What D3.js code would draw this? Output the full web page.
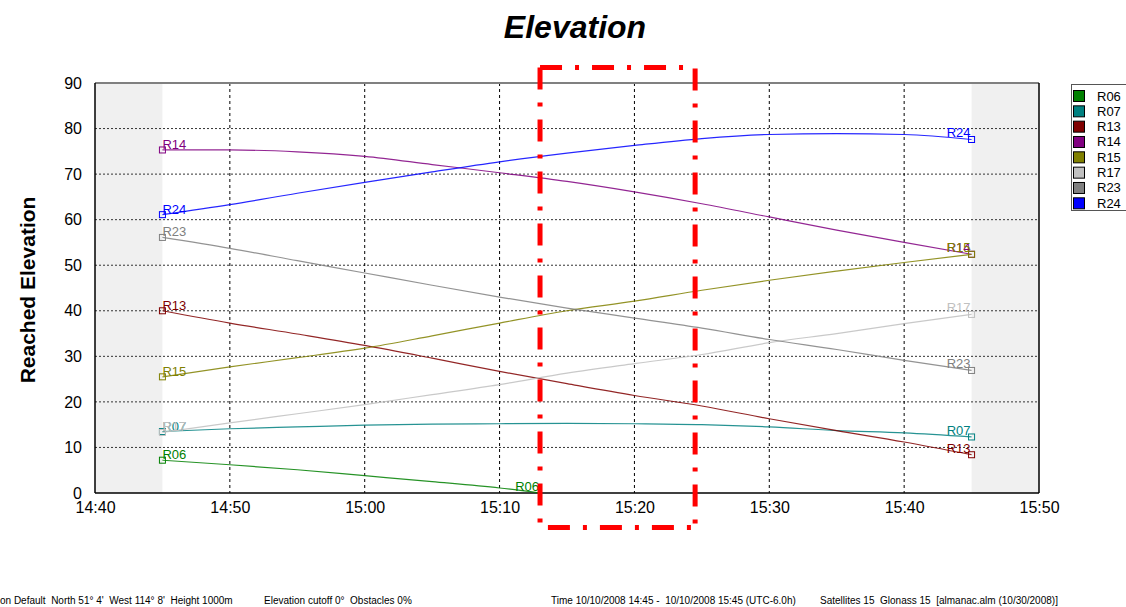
<!DOCTYPE html>
<html lang="en">
<head>
    <meta charset="UTF-8">
    <title>Elevation</title>
    <script src="https://d3js.org/d3.v7.min.js"></script>
    <style>
        body {
            margin: 0;
            padding: 0;
            background: white;
            font-family: Arial, 'Liberation Sans', sans-serif;
        }
    </style>
</head>
<body>
<div id="chart"></div>
<script>
    // data
    var times = ["14:45","14:50","14:55","15:00","15:05","15:10","15:15","15:20","15:25","15:30","15:35","15:40","15:45"];
    var r06Times = ["14:45","14:50","14:55","15:00","15:05","15:10","15:13"];

    var R06 = [7.2, 6.2, 5.1, 3.8, 2.5, 1.1, 0];
    var R07 = [13.5, 14.1, 14.5, 14.9, 15.1, 15.2, 15.3, 15.2, 15.0, 14.5, 13.7, 13.2, 12.3];
    var R13 = [40.0, 37.3, 34.9, 32.4, 29.6, 26.7, 24.0, 21.4, 19.1, 16.3, 13.7, 11.2, 8.4];
    var R14 = [75.3, 75.3, 74.9, 73.9, 72.1, 70.3, 68.4, 66.1, 63.5, 60.6, 57.7, 55.0, 52.4];
    var R15 = [25.5, 27.7, 29.7, 31.8, 34.5, 37.3, 40.0, 42.1, 44.5, 46.7, 48.7, 50.6, 52.4];
    var R17 = [13.3, 15.4, 17.4, 19.4, 21.6, 23.8, 26.3, 28.4, 30.4, 33.0, 35.0, 37.2, 39.2];
    var R23 = [56.1, 53.7, 51.0, 48.3, 45.6, 43.0, 40.6, 38.4, 36.2, 33.7, 31.5, 29.1, 26.9];
    var R24 = [61.1, 63.3, 65.8, 68.2, 70.5, 72.7, 74.6, 76.3, 77.8, 78.7, 78.9, 78.7, 77.6];

    var names = ["R06","R07","R13","R14","R15","R17","R23","R24"];
    var colors = ["#008000","#008080","#800000","#800080","#808000","#c0c0c0","#808080","#0000ff"];
    var yTicks = [0,10,20,30,40,50,60,70,80,90];
    var xTickLabels = ["14:40","14:50","15:00","15:10","15:20","15:30","15:40","15:50"];
    var shaded = [["14:40","14:45"],["15:45","15:50"]];
    var highlight = ["15:13:00","15:24:30"];

    var width = 1126, height = 607;
    var plotLeft = 95, plotRight = 1039, plotTop = 83, plotBottom = 493;

    var parseTime = d3.timeParse("%H:%M");
    var parseTimeS = d3.timeParse("%H:%M:%S");

    var series = [
        {name:"R06", t:r06Times, v:R06, endMarker:false},
        {name:"R07", t:times, v:R07, endMarker:true},
        {name:"R13", t:times, v:R13, endMarker:true},
        {name:"R14", t:times, v:R14, endMarker:true},
        {name:"R15", t:times, v:R15, endMarker:true},
        {name:"R17", t:times, v:R17, endMarker:true},
        {name:"R23", t:times, v:R23, endMarker:true},
        {name:"R24", t:times, v:R24, endMarker:true}
    ];
    series.forEach(function(s){
        s.color = colors[names.indexOf(s.name)];
        s.points = s.t.map(function(t, i){ return {date: parseTime(t), value: s.v[i]}; });
    });

    var xScale = d3.scaleTime()
        .domain([parseTime("14:40"), parseTime("15:50")])
        .range([plotLeft, plotRight]);

    var yScale = d3.scaleLinear()
        .domain([0, 90])
        .range([plotBottom, plotTop]);

    var svg = d3.select("#chart").append("svg")
        .attr("width", width)
        .attr("height", height)
        .attr("viewBox", [0, 0, width, height]);

    // grey bands outside the time span
    svg.selectAll(".band")
        .data(shaded)
        .enter()
        .append("rect")
        .attr("x", d => xScale(parseTime(d[0])))
        .attr("y", plotTop)
        .attr("width", d => xScale(parseTime(d[1])) - xScale(parseTime(d[0])))
        .attr("height", plotBottom - plotTop)
        .attr("fill", "#f0f0f0");

    // grid
    svg.selectAll(".hgrid")
        .data(yTicks.slice(1, -1))
        .enter()
        .append("line")
        .attr("x1", plotLeft).attr("x2", plotRight)
        .attr("y1", d => yScale(d)).attr("y2", d => yScale(d))
        .style("stroke", "#333")
        .style("stroke-width", 1)
        .style("stroke-dasharray", "2 2");

    svg.selectAll(".vgrid")
        .data(xTickLabels.slice(1, -1))
        .enter()
        .append("line")
        .attr("x1", d => xScale(parseTime(d))).attr("x2", d => xScale(parseTime(d)))
        .attr("y1", plotTop).attr("y2", plotBottom)
        .style("stroke", "#000")
        .style("stroke-width", 1)
        .style("stroke-dasharray", "3 3");

    // frame
    svg.append("line").attr("x1", plotLeft).attr("x2", plotRight).attr("y1", plotTop).attr("y2", plotTop)
        .style("stroke", "#808080").style("stroke-width", 2);
    svg.append("line").attr("x1", plotRight).attr("x2", plotRight).attr("y1", plotTop).attr("y2", plotBottom)
        .style("stroke", "#000").style("stroke-width", 1.5);
    svg.append("line").attr("x1", plotLeft).attr("x2", plotRight).attr("y1", plotBottom).attr("y2", plotBottom)
        .style("stroke", "#000").style("stroke-width", 1.5);
    svg.append("line").attr("x1", plotLeft).attr("x2", plotLeft).attr("y1", plotTop).attr("y2", plotBottom)
        .style("stroke", "#000").style("stroke-width", 1.5);

    // axis labels
    var yAxis = d3.axisLeft(yScale).tickValues(yTicks).tickSize(0).tickPadding(13);
    var yg = svg.append("g").attr("transform", "translate(" + plotLeft + ",0)").call(yAxis);
    var xAxis = d3.axisBottom(xScale)
        .tickValues(xTickLabels.map(parseTime))
        .tickFormat(d3.timeFormat("%H:%M"))
        .tickSize(0).tickPadding(9);
    var xg = svg.append("g").attr("transform", "translate(0," + plotBottom + ")").call(xAxis);
    [yg, xg].forEach(function(g){
        g.select(".domain").remove();
        g.selectAll("text")
            .style("font-family", "Arial, 'Liberation Sans', sans-serif")
            .style("font-size", "16px")
            .style("fill", "#000");
    });

    // lines
    var line = d3.line()
        .x(d => xScale(d.date))
        .y(d => yScale(d.value))
        .curve(d3.curveMonotoneX);

    svg.selectAll(".series")
        .data(series)
        .enter()
        .append("path")
        .attr("d", d => line(d.points))
        .attr("fill", "none")
        .attr("stroke", d => d.color)
        .attr("stroke-width", 1.2)
        .attr("stroke-opacity", 0.85);

    // markers + labels at start and end
    series.forEach(function(s){
        var first = s.points[0];
        var last = s.points[s.points.length - 1];
        svg.append("rect")
            .attr("x", xScale(first.date) - 3).attr("y", yScale(first.value) - 3)
            .attr("width", 6).attr("height", 6)
            .attr("fill", "none").attr("stroke", s.color).attr("stroke-width", 1);
        svg.append("text")
            .attr("x", xScale(first.date))
            .attr("y", yScale(first.value) - 1)
            .style("font-size", "13px")
            .style("fill", s.color)
            .text(s.name);
        if (s.endMarker) {
            svg.append("rect")
                .attr("x", xScale(last.date) - 3).attr("y", yScale(last.value) - 3)
                .attr("width", 6).attr("height", 6)
                .attr("fill", "none").attr("stroke", s.color).attr("stroke-width", 1);
        }
        svg.append("text")
            .attr("x", xScale(last.date) - 1)
            .attr("y", yScale(last.value) - 2)
            .attr("text-anchor", "end")
            .style("font-size", "13px")
            .style("fill", s.color)
            .text(s.name);
    });

    // red dash-dot highlight box
    var hx1 = xScale(parseTimeS(highlight[0])), hx2 = xScale(parseTimeS(highlight[1]));
    var hy1 = yScale(93.4), hy2 = yScale(-7.6);
    var boxEdges = [
        "M" + hx1 + "," + hy1 + "V" + hy2 + "H" + hx2,
        "M" + hx1 + "," + hy1 + "H" + hx2 + "V" + hy2
    ];
    svg.selectAll(".highlight")
        .data(boxEdges)
        .enter()
        .append("path")
        .attr("d", d => d)
        .attr("fill", "none")
        .attr("stroke", "#ff0000")
        .attr("stroke-width", 5)
        .attr("stroke-dasharray", "22 13 4 13");

    // title
    svg.append("text")
        .attr("x", 575).attr("y", 38)
        .attr("text-anchor", "middle")
        .style("font-size", "32px")
        .style("font-weight", "bold")
        .style("font-style", "italic")
        .text("Elevation");

    svg.append("text")
        .attr("transform", "translate(35,290) rotate(-90)")
        .attr("text-anchor", "middle")
        .style("font-size", "21px")
        .style("font-weight", "bold")
        .text("Reached Elevation");

    // legend
    var legend = svg.append("g").attr("transform", "translate(1071,84)");
    legend.append("rect")
        .attr("x", 0.5).attr("y", 0.5)
        .attr("width", 60).attr("height", 126)
        .attr("fill", "white")
        .attr("stroke", "#555");
    var legendItems = legend.selectAll(".legend-item")
        .data(names)
        .enter()
        .append("g")
        .attr("transform", (d, i) => "translate(0," + (i * 15.33) + ")");
    legendItems.append("rect")
        .attr("x", 2.5).attr("y", 6.5)
        .attr("width", 11).attr("height", 11)
        .attr("fill", (d, i) => colors[i])
        .attr("stroke", "#000");
    legendItems.append("text")
        .attr("x", 26).attr("y", 16.5)
        .style("font-size", "13px")
        .text(d => d);

    // footer info line
    var footer = [
        [0, "on Default  North 51\u00b0 4'  West 114\u00b0 8'  Height 1000m"],
        [264, "Elevation cutoff 0\u00b0  Obstacles 0%"],
        [551, "Time 10/10/2008 14:45 -  10/10/2008 15:45 (UTC-6.0h)"],
        [820, "Satellites 15  Glonass 15  [almanac.alm (10/30/2008)]"]
    ];
    svg.selectAll(".footer")
        .data(footer)
        .enter()
        .append("text")
        .attr("x", d => d[0])
        .attr("y", 604)
        .style("font-size", "10px")
        .style("white-space", "pre")
        .text(d => d[1]);
</script>
</body>
</html>
